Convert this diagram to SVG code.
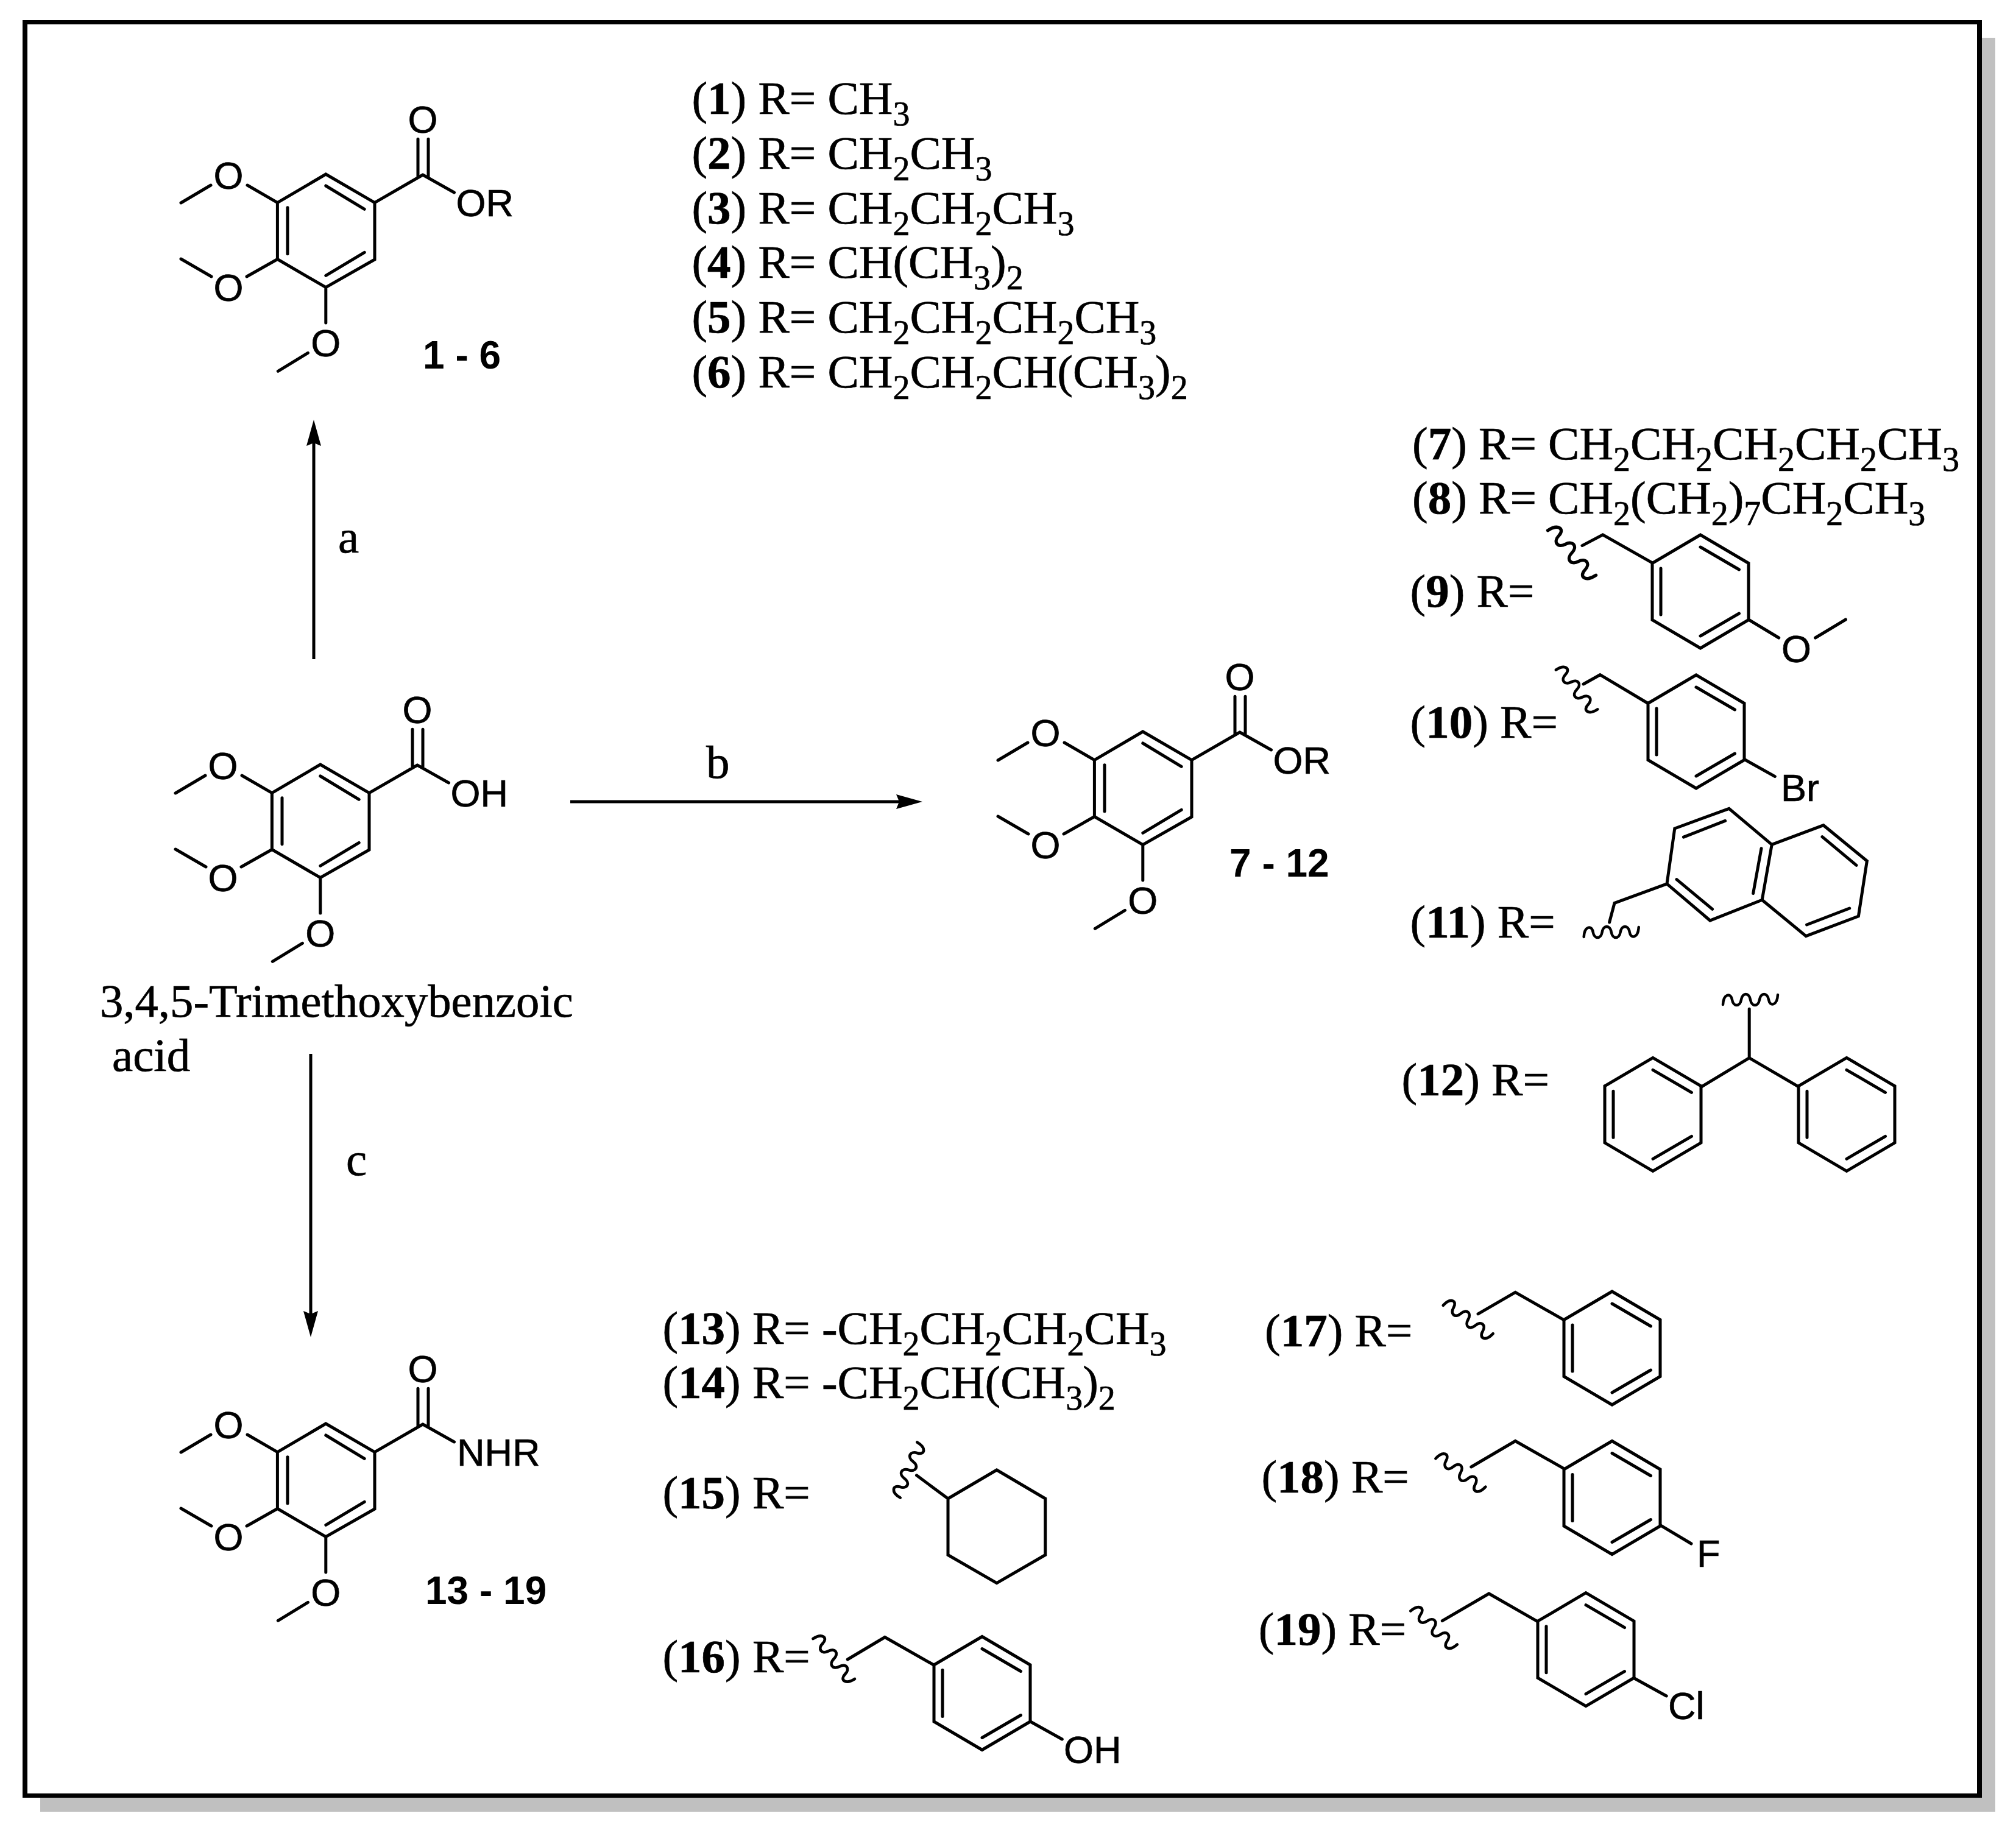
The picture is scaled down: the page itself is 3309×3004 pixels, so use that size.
<svg xmlns="http://www.w3.org/2000/svg" width="3309" height="3004" viewBox="0 0 3309 3004">
<style>
.l{fill:none;stroke:#000;stroke-width:5;stroke-linecap:round;stroke-linejoin:miter}
.w{fill:none;stroke:#000;stroke-width:4.5;stroke-linecap:round;stroke-linejoin:round}
.arr{fill:none;stroke:#000;stroke-width:5}
.a{font-family:"Liberation Sans",Arial,sans-serif;font-size:63px;fill:#000;stroke:#000;stroke-width:.7}
.m{text-anchor:middle}
.n{font-family:"Liberation Sans",Arial,sans-serif;font-size:64px;font-weight:bold;fill:#000}
.t{font-family:"Liberation Serif","Times New Roman",serif;font-size:77px;fill:#000;stroke:#000;stroke-width:.7}
.b{font-weight:bold}
.s{font-size:56px;baseline-shift:-19px}
</style>
<defs>
<marker id="head" markerUnits="userSpaceOnUse" markerWidth="46" markerHeight="28" refX="8" refY="13" orient="auto">
<path d="M43 13L0 1L5 13L0 25Z" fill="#000"/>
</marker>
<path id="core" class="l" d="M534.8 286L615 332.7V426L534.8 471.7L455.4 425.5V332.7ZM534.8 305L598.2 343.3M472 340.7V416.7M534.8 452.3L598.2 414.3M615 332.7L694 287M686 228.3V291.5M703 228.3V291.5M694 287L745.5 316M455.4 332.7L406 304M346 304L297 333M455.4 425.5L405 454M347 454L297 425M534.8 471.7V530M505.4 579.3L456.3 609.3"/>
<path id="ph" class="l" d="M0 -93L79 -46.5V46.5L0 93L-79 46.5V-46.5ZM0 -73L63.5 -36M-65 -38V38M0 73L63.5 36"/>
<path id="wave" class="w" d="M-45 8C-44 -10 -32 -12 -30 0C-28 12 -17 12 -15 0C-13 -12 -2 -12 0 0C2 12 13 12 15 0C17 -12 28 -12 30 0C32 12 44 10 45 -8"/>
</defs>
<rect width="3309" height="3004" fill="#fff"/>
<g id="frame">
<rect x="66" y="62" width="3209" height="2912" fill="#c0c0c0"/>
<rect x="37" y="33" width="3216" height="2918" fill="#000"/>
<rect x="45" y="40" width="3200" height="2904" fill="#fff"/>
</g>
<g id="connectors">
<path class="arr" d="M515 1082V724" marker-end="url(#head)"/>
<path class="arr" d="M936 1316H1479" marker-end="url(#head)"/>
<path class="arr" d="M510 1730V2160" marker-end="url(#head)"/>
</g>
<g id="arrow-labels">
<text class="t" x="555" y="907">a</text>
<text class="t" x="1159" y="1277">b</text>
<text class="t" x="568" y="1929">c</text>
</g>
<g id="mol-1-6">
<use href="#core"/>
<text class="a m" x="375" y="310">O</text>
<text class="a m" x="375" y="494">O</text>
<text class="a m" x="534.8" y="585">O</text>
<text class="a m" x="694" y="218">O</text>
<text class="a" x="748.5" y="355">OR</text>
<text class="n" x="694" y="605">1 - 6</text>
</g>
<g id="acid">
<use href="#core" transform="translate(-9 969)"/>
<text class="a m" x="366" y="1279">O</text>
<text class="a m" x="366" y="1463">O</text>
<text class="a m" x="525.8" y="1554">O</text>
<text class="a m" x="685" y="1187">O</text>
<text class="a" x="739.5" y="1324">OH</text>
<text class="t" x="164" y="1669" style="font-size:76.7px">3,4,5-Trimethoxybenzoic</text>
<text class="t" x="184" y="1758">acid</text>
</g>
<g id="mol-7-12">
<use href="#core" transform="translate(1341 915)"/>
<text class="a m" x="1716" y="1225">O</text>
<text class="a m" x="1716" y="1409">O</text>
<text class="a m" x="1875.8" y="1500">O</text>
<text class="a m" x="2035" y="1133">O</text>
<text class="a" x="2089.5" y="1270">OR</text>
<text class="n" x="2018" y="1439">7 - 12</text>
</g>
<g id="mol-13-19">
<use href="#core" transform="translate(0 2051)"/>
<text class="a m" x="375" y="2361">O</text>
<text class="a m" x="375" y="2545">O</text>
<text class="a m" x="534.8" y="2636">O</text>
<text class="a m" x="694" y="2269">O</text>
<text class="a" x="750" y="2406">NHR</text>
<text class="n" x="698" y="2633">13 - 19</text>
</g>
<g id="r1"><text class="t" x="1135.4" y="187.4">(<tspan class="b">1</tspan>) R= CH<tspan class="s">3</tspan></text></g>
<g id="r2"><text class="t" x="1135.4" y="277.4">(<tspan class="b">2</tspan>) R= CH<tspan class="s">2</tspan>CH<tspan class="s">3</tspan></text></g>
<g id="r3"><text class="t" x="1135.4" y="367">(<tspan class="b">3</tspan>) R= CH<tspan class="s">2</tspan>CH<tspan class="s">2</tspan>CH<tspan class="s">3</tspan></text></g>
<g id="r4"><text class="t" x="1135.4" y="456">(<tspan class="b">4</tspan>) R= CH(CH<tspan class="s">3</tspan>)<tspan class="s">2</tspan></text></g>
<g id="r5"><text class="t" x="1135.4" y="546">(<tspan class="b">5</tspan>) R= CH<tspan class="s">2</tspan>CH<tspan class="s">2</tspan>CH<tspan class="s">2</tspan>CH<tspan class="s">3</tspan></text></g>
<g id="r6"><text class="t" x="1135.4" y="636">(<tspan class="b">6</tspan>) R= CH<tspan class="s">2</tspan>CH<tspan class="s">2</tspan>CH(CH<tspan class="s">3</tspan>)<tspan class="s">2</tspan></text></g>
<g id="r7"><text class="t" x="2318" y="753.7">(<tspan class="b">7</tspan>) R= CH<tspan class="s">2</tspan>CH<tspan class="s">2</tspan>CH<tspan class="s">2</tspan>CH<tspan class="s">2</tspan>CH<tspan class="s">3</tspan></text></g>
<g id="r8"><text class="t" x="2318" y="843">(<tspan class="b">8</tspan>) R= CH<tspan class="s">2</tspan>(CH<tspan class="s">2</tspan>)<tspan class="s">7</tspan>CH<tspan class="s">2</tspan>CH<tspan class="s">3</tspan></text></g>
<g id="r9">
<text class="t" x="2314.5" y="996">(<tspan class="b">9</tspan>) R=</text>
<use href="#wave" transform="translate(2580 907.5) rotate(53) scale(1.18)"/>
<path class="l" d="M2597 895.6L2630.8 877.8L2712.4 924.2M2870 1017L2919.7 1047M2979.6 1047L3029.4 1017"/>
<use href="#ph" transform="translate(2791 971)"/>
<text class="a m" x="2948.4" y="1087">O</text>
</g>
<g id="r10">
<text class="t" x="2314.5" y="1211">(<tspan class="b">10</tspan>) R=</text>
<use href="#wave" transform="translate(2588 1132) rotate(53.5) scale(1.03)"/>
<path class="l" d="M2599 1123L2626.3 1107.7L2704 1154M2864 1247L2913.3 1274.6"/>
<use href="#ph" transform="translate(2784 1201)"/>
<text class="a" x="2923" y="1315">Br</text>
</g>
<g id="r11">
<text class="t" x="2314.5" y="1539">(<tspan class="b">11</tspan>) R=</text>
<use href="#wave" transform="translate(2644.7 1530)"/>
<path class="l" d="M2641.6 1514L2650 1482.4L2736 1450.8L2806.8 1511L2892.2 1477.3L2908.2 1386.4L2838 1327.3L2748.8 1360L2736 1450.8M2908.2 1386.4L2993 1354.7L3064.4 1413.2L3050.4 1504L2964.3 1536.6L2892.2 1477.3M2763.4 1374.2L2831.6 1347.4M2752 1443.7L2810.6 1492.3M2891 1392.7L2877.6 1466.6M2991 1373.7L3047 1420.4M3035.7 1491L2965.6 1518"/>
</g>
<g id="r12">
<text class="t" x="2300.5" y="1798">(<tspan class="b">12</tspan>) R=</text>
<use href="#wave" transform="translate(2873 1641)"/>
<path class="l" d="M2871.2 1656.3V1736.6M2793.4 1783.6L2871.2 1736.6L2951.6 1783.6"/>
<use href="#ph" transform="translate(2713 1829.3)"/>
<use href="#ph" transform="translate(3031 1829.3)"/>
</g>
<g id="r13"><text class="t" x="1087.4" y="2206">(<tspan class="b">13</tspan>) R= -CH<tspan class="s">2</tspan>CH<tspan class="s">2</tspan>CH<tspan class="s">2</tspan>CH<tspan class="s">3</tspan></text></g>
<g id="r14"><text class="t" x="1087.4" y="2295">(<tspan class="b">14</tspan>) R= -CH<tspan class="s">2</tspan>CH(CH<tspan class="s">3</tspan>)<tspan class="s">2</tspan></text></g>
<g id="r15">
<text class="t" x="1087.4" y="2475.6">(<tspan class="b">15</tspan>) R=</text>
<use href="#wave" transform="translate(1491.5 2413) rotate(117) scale(1.04)"/>
<path class="l" d="M1556 2460L1504.5 2421.8M1636 2413L1715.7 2460V2552.5L1636 2598.6L1556 2552.5V2460Z"/>
</g>
<g id="r16">
<text class="t" x="1087.4" y="2745">(<tspan class="b">16</tspan>) R=</text>
<use href="#wave" transform="translate(1368.7 2723) rotate(54) scale(1.04)"/>
<path class="l" d="M1391.2 2724L1452.4 2687.5L1532.6 2733M1691.2 2826L1743.3 2855"/>
<use href="#ph" transform="translate(1612 2779.5)"/>
<text class="a" x="1746" y="2894">OH</text>
</g>
<g id="r17">
<text class="t" x="2076" y="2209.5">(<tspan class="b">17</tspan>) R=</text>
<use href="#wave" transform="translate(2409.7 2166) rotate(39.6) scale(1.03)"/>
<path class="l" d="M2426 2156.8L2487.2 2121.4L2566.3 2166.4"/>
<use href="#ph" transform="translate(2646 2213)"/>
</g>
<g id="r18">
<text class="t" x="2070.4" y="2450">(<tspan class="b">18</tspan>) R=</text>
<use href="#wave" transform="translate(2397.4 2417.4) rotate(39.6) scale(1.03)"/>
<path class="l" d="M2414.8 2408L2487.2 2365.5L2566.3 2410.4M2726 2504.2L2776 2534"/>
<use href="#ph" transform="translate(2646 2458.5)"/>
<text class="a" x="2785" y="2572">F</text>
</g>
<g id="r19">
<text class="t" x="2065.8" y="2700">(<tspan class="b">19</tspan>) R=</text>
<use href="#wave" transform="translate(2353.5 2672) rotate(45.7) scale(1.03)"/>
<path class="l" d="M2367.3 2660.7L2443.9 2616L2523.5 2661.6M2682.6 2755L2735.2 2784"/>
<use href="#ph" transform="translate(2603 2707.7)"/>
<text class="a" x="2738" y="2822">Cl</text>
</g>
</svg>
